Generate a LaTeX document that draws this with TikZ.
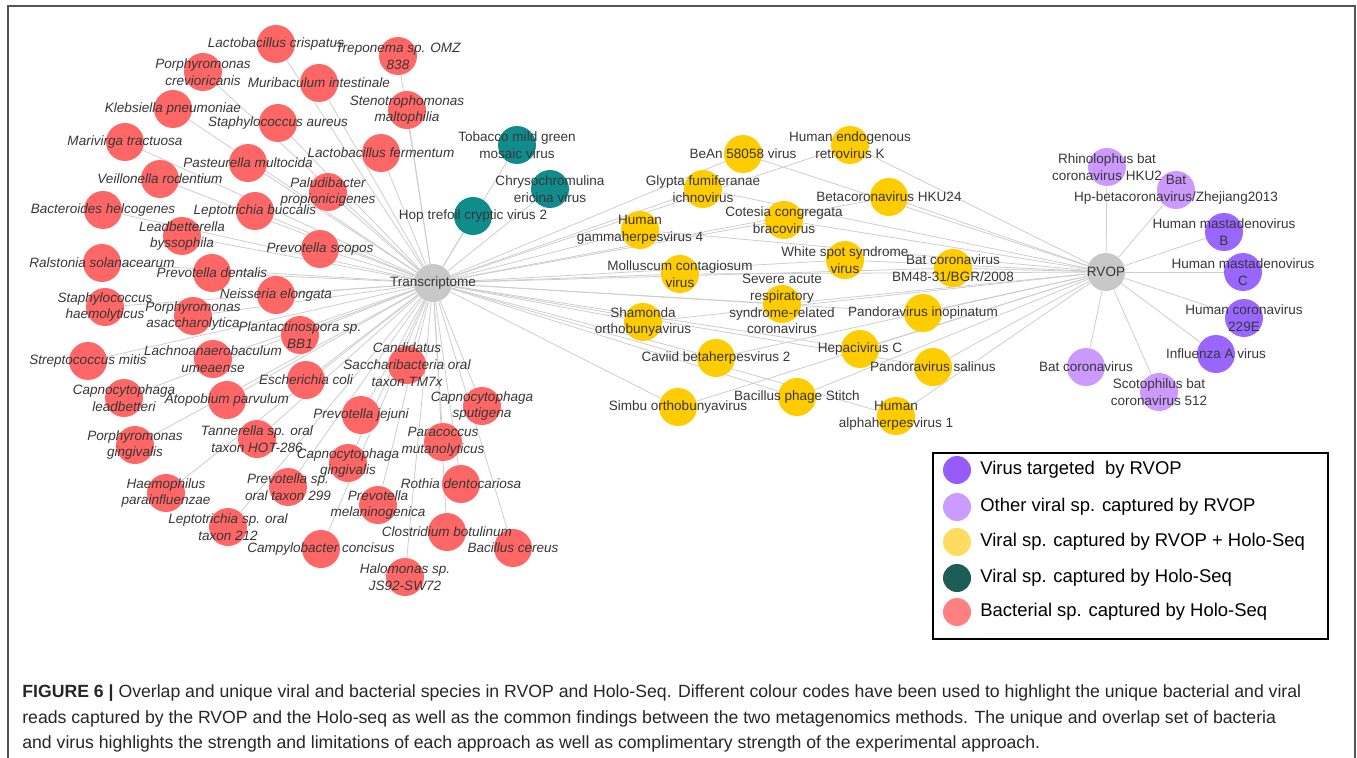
\documentclass[tikz,border=0pt]{standalone}
\usepackage{fontspec}
\setmainfont{Liberation Sans}
\usepackage{tikz}
\usetikzlibrary{positioning}
\definecolor{bactred}{RGB}{255,102,102}
\definecolor{holoteal}{RGB}{16,140,140}
\definecolor{bothyellow}{RGB}{255,204,0}
\definecolor{targetpurple}{RGB}{153,102,255}
\definecolor{otherpurple}{RGB}{204,153,255}
\definecolor{hubgray}{RGB}{200,200,200}
\definecolor{edgegray}{RGB}{205,205,205}
\definecolor{lbltext}{RGB}{55,55,55}
\definecolor{framegray}{RGB}{85,85,85}
\definecolor{keypurple}{RGB}{150,92,250}
\definecolor{keylilac}{RGB}{204,155,255}
\definecolor{keyyellow}{RGB}{255,220,95}
\definecolor{keyteal}{RGB}{30,92,88}
\definecolor{keypink}{RGB}{255,128,128}
\pgfdeclarelayer{back}
\pgfdeclarelayer{fore}
\pgfsetlayers{back,main,fore}

\begin{document}
\begin{tikzpicture}[x=0.02cm, y=-0.02cm, inner sep=0pt,
    hub/.style={circle, fill=hubgray, minimum size=0.76cm},
    bact/.style={circle, fill=bactred, minimum size=0.76cm},
    holo/.style={circle, fill=holoteal, minimum size=0.76cm},
    both/.style={circle, fill=bothyellow, minimum size=0.76cm},
    target/.style={circle, fill=targetpurple, minimum size=0.76cm},
    other/.style={circle, fill=otherpurple, minimum size=0.76cm},
    lbl/.style={align=center, text=lbltext, font=\fontsize{7.7}{9.6}\selectfont},
    blbl/.style={lbl, font=\fontsize{7.7}{9.6}\selectfont\itshape},
    link/.style={draw=edgegray, line width=0.45pt},
    keydot/.style={circle, minimum size=0.56cm},
    keytext/.style={anchor=west, font=\fontsize{10.5}{12}\selectfont},
    captext/.style={anchor=base west, text=black!85, font=\fontsize{10.05}{12}\selectfont}]
  \useasboundingbox (0,0) rectangle (1357,758);
  \draw[framegray, line width=0.6pt] (8,758) -- (8,6) -- (1355,6) -- (1355,758);

  \node[hub] (tr) at (433,283) {};
  \node[hub] (rv) at (1106,272) {};
  \begin{pgfonlayer}{fore}
    \node[lbl] (tr-t) at (tr) {Transcriptome};
    \node[lbl] (rv-t) at (rv) {RVOP};
  \end{pgfonlayer}

  \foreach \nm/\px/\py/\lab in {
      lcri/276/44/{Lactobacillus crispatus},
      pcre/203/72/{Porphyromonas\\crevioricanis},
      tomz/398/56/{Treponema sp. OMZ\\838},
      mint/319/83/{Muribaculum intestinale},
      kpne/173/109/{Klebsiella pneumoniae},
      smal/407/110/{Stenotrophomonas\\maltophilia},
      saur/278/123/{Staphylococcus aureus},
      mtra/125/142/{Marivirga tractuosa},
      lfer/381/153/{Lactobacillus fermentum},
      pmul/248/163/{Pasteurella multocida},
      vrod/160/179/{Veillonella rodentium},
      ppro/328/192/{Paludibacter\\propionicigenes},
      bhel/103/210/{Bacteroides helcogenes},
      lbuc/255/211/{Leptotrichia buccalis},
      lbys/182/236/{Leadbetterella\\byssophila},
      psco/320/249/{Prevotella scopos},
      rsol/102/263/{Ralstonia solanacearum},
      pden/212/273/{Prevotella dentalis},
      nelo/276/295/{Neisseria elongata},
      shae/105/307/{Staphylococcus\\haemolyticus},
      pasa/193/316/{Porphyromonas\\asaccharolytica},
      pbb1/300/335/{Plantactinospora sp.\\BB1},
      smit/88/361/{Streptococcus mitis},
      lume/213/359/{Lachnoanaerobaculum\\umeaense},
      ctm7/407/365/{Candidatus\\Saccharibacteria oral\\taxon TM7x},
      ecol/306/380/{Escherichia coli},
      clea/124/398/{Capnocytophaga\\leadbetteri},
      apar/227/400/{Atopobium parvulum},
      cspu/482/406/{Capnocytophaga\\sputigena},
      pjej/361/415/{Prevotella jejuni},
      pgin/135/445/{Porphyromonas\\gingivalis},
      thot/257/439/{Tannerella sp. oral\\taxon HOT-286},
      pmut/443/442/{Paracoccus\\mutanolyticus},
      cgin/348/463/{Capnocytophaga\\gingivalis},
      rden/461/484/{Rothia dentocariosa},
      hpar/166/493/{Haemophilus\\parainfluenzae},
      p299/288/487/{Prevotella sp.\\oral taxon 299},
      pmel/378/505/{Prevotella\\melaninogenica},
      l212/228/527/{Leptotrichia sp. oral\\taxon 212},
      cbot/447/532/{Clostridium botulinum},
      bcer/513/548/{Bacillus cereus},
      ccon/321/549/{Campylobacter concisus},
      hjs9/405/577/{Halomonas sp.\\JS92-SW72}} {
    \node[bact] (\nm) at (\px,\py) {};
    \begin{pgfonlayer}{fore}\node[blbl] (\nm-t) at (\nm) {\lab};\end{pgfonlayer}
    \begin{pgfonlayer}{back}\draw[link] (tr) -- (\nm);\end{pgfonlayer}
  }

  \foreach \nm/\px/\py/\lab in {
      tmgm/517/145/{Tobacco mild green\\mosaic virus},
      cerv/550/189/{Chrysochromulina\\ericina virus},
      htcv/473/216/{Hop trefoil cryptic virus 2}} {
    \node[holo] (\nm) at (\px,\py) {};
    \begin{pgfonlayer}{fore}\node[lbl] (\nm-t) at (\nm) {\lab};\end{pgfonlayer}
    \begin{pgfonlayer}{back}\draw[link] (tr) -- (\nm);\end{pgfonlayer}
  }

  \foreach \nm/\px/\py/\lab in {
      bean/743/154/{BeAn 58058 virus},
      herk/850/145/{Human endogenous\\retrovirus K},
      gfic/703/189/{Glypta fumiferanae\\ichnovirus},
      bhku/889/197/{Betacoronavirus HKU24},
      ccbv/784/220/{Cotesia congregata\\bracovirus},
      hgh4/640/230/{Human\\gammaherpesvirus 4},
      wssv/845/260/{White spot syndrome\\virus},
      bbgr/953/268/{Bat coronavirus\\BM48-31/BGR/2008},
      mcvi/680/274/{Molluscum contagiosum\\virus},
      sars/782/304/{Severe acute\\respiratory\\syndrome-related\\coronavirus},
      pino/923/313/{Pandoravirus inopinatum},
      shob/643/322/{Shamonda\\orthobunyavirus},
      hepc/860/349/{Hepacivirus C},
      cbh2/716/358/{Caviid betaherpesvirus 2},
      psal/933/367/{Pandoravirus salinus},
      bpst/797/397/{Bacillus phage Stitch},
      siob/678/407/{Simbu orthobunyavirus},
      hah1/896/416/{Human\\alphaherpesvirus 1}} {
    \node[both] (\nm) at (\px,\py) {};
    \begin{pgfonlayer}{fore}\node[lbl] (\nm-t) at (\nm) {\lab};\end{pgfonlayer}
    \begin{pgfonlayer}{back}\draw[link] (tr) -- (\nm) -- (rv);\end{pgfonlayer}
  }

  \foreach \nm/\px/\py/\lab/\kind in {
      rhku/1107/167/{Rhinolophus bat\\coronavirus HKU2}/other,
      bhpz/1176/190/{Bat\\Hp-betacoronavirus/Zhejiang2013}/other,
      hmab/1224/232/{Human mastadenovirus\\B}/target,
      hmac/1243/272/{Human mastadenovirus\\C}/target,
      h229/1244/318/{Human coronavirus\\229E}/target,
      flua/1216/354/{Influenza A virus}/target,
      bcov/1086/367/{Bat coronavirus}/other,
      sc51/1159/392/{Scotophilus bat\\coronavirus 512}/other} {
    \node[\kind] (\nm) at (\px,\py) {};
    \begin{pgfonlayer}{fore}\node[lbl] (\nm-t) at (\nm) {\lab};\end{pgfonlayer}
    \begin{pgfonlayer}{back}\draw[link] (rv) -- (\nm);\end{pgfonlayer}
  }

  \node[draw=black, line width=1.2pt, fill=white, minimum width=7.9cm, minimum height=3.72cm,
        anchor=north west] (key) at (932,452) {};
  \foreach \i/\py/\col/\lab in {
      1/470/keypurple/{Virus targeted~~by RVOP},
      2/507/keylilac/{Other viral sp. captured by RVOP},
      3/542/keyyellow/{Viral sp. captured by RVOP + Holo-Seq},
      4/578/keyteal/{Viral sp. captured by Holo-Seq},
      5/612/keypink/{Bacterial sp. captured by Holo-Seq}} {
    \node[keydot, fill=\col] (k\i) at (957,\py) {};
    \node[keytext] (k\i-t) at (980,\py) {\lab};
  }

  \node[captext] (cap1) at (22,697) {\textbf{FIGURE 6 |} Overlap and unique viral and bacterial species in RVOP and Holo-Seq. Different colour codes have been used to highlight the unique bacterial and viral};
  \node[captext] (cap2) at (22,723) {reads captured by the RVOP and the Holo-seq as well as the common findings between the two metagenomics methods. The unique and overlap set of bacteria};
  \node[captext] (cap3) at (22,748) {and virus highlights the strength and limitations of each approach as well as complimentary strength of the experimental approach.};
\end{tikzpicture}
\end{document}
